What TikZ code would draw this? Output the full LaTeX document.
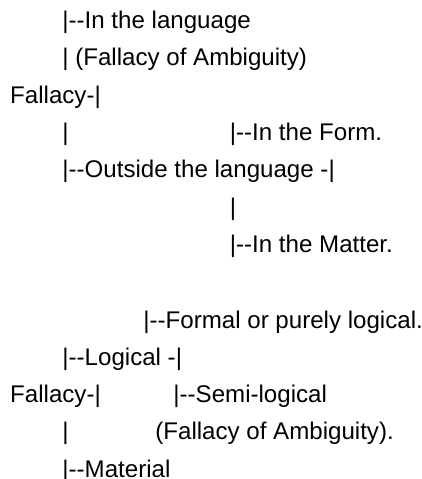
\documentclass[tikz,border=0pt]{standalone}
\usepackage{fontspec}
\newfontfamily\plainsans{Liberation Sans}
\usetikzlibrary{positioning}
\tikzset{
  txt/.style={anchor=base west,inner sep=0pt,font=\plainsans\fontsize{12.05}{14}\selectfont},
}
\begin{document}
\begin{tikzpicture}[x=0.5pt,y=-0.5pt]
  \useasboundingbox (0,0) rectangle (422,479);
  \node[txt] (lang) at (62,28.3) {|--In the language};
  \node[txt] (lambig) at (62,65.7) {| (Fallacy of Ambiguity)};
  \node[txt] (rootA) at (9.8,103.1) {Fallacy-|};
  \node[txt] (barA) at (62,140.5) {|};
  \node[txt] (form) at (229.5,140.5) {|--In the Form.};
  \node[txt] (outside) at (62,177.9) {|--Outside the language -|};
  \node[txt] (barB) at (229.5,215.3) {|};
  \node[txt] (matter) at (229.5,252.7) {|--In the Matter.};
  \node[txt] (formal) at (143,328.5) {|--Formal or purely logical.};
  \node[txt] (logical) at (62,365) {|--Logical -|};
  \node[txt] (rootB) at (9.8,402.5) {Fallacy-|};
  \node[txt] (semi) at (173,402.5) {|--Semi-logical};
  \node[txt] (barC) at (62,439.7) {|};
  \node[txt] (sambig) at (155,439.7) {(Fallacy of Ambiguity).};
  \node[txt] (material) at (62,477) {|--Material};
\end{tikzpicture}
\end{document}
